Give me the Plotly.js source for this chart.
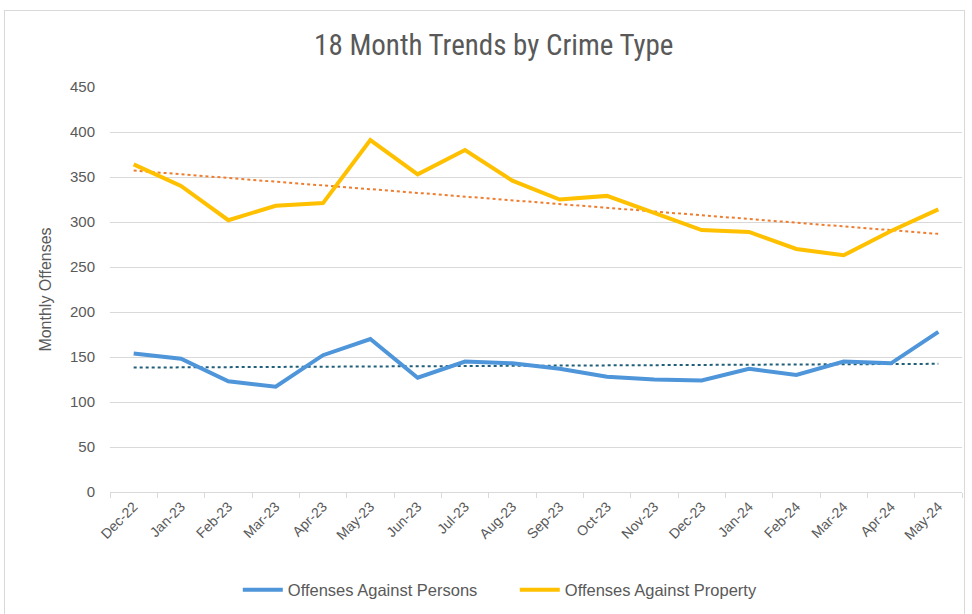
<!DOCTYPE html>
<html>
<head>
<meta charset="utf-8">
<script src="https://cdn.plot.ly/plotly-3.0.1.min.js"></script>
<style>
html,body{margin:0;padding:0;background:#fff;}
#wrap{position:relative;width:972px;height:614px;}
#frame{position:absolute;left:4px;top:10px;width:961px;height:610px;border:1px solid #d9d9d9;box-sizing:border-box;}
#chart{position:absolute;left:0;top:0;width:972px;height:614px;}
</style>
</head>
<body>
<div id="wrap"><div id="frame"></div><div id="chart"></div></div>
<script>
const months = ["Dec-22","Jan-23","Feb-23","Mar-23","Apr-23","May-23","Jun-23","Jul-23","Aug-23","Sep-23","Oct-23","Nov-23","Dec-23","Jan-24","Feb-24","Mar-24","Apr-24","May-24"];
const persons = [154,148,123,117,152,170,127,145,143,137,128,125,124,137,130,145,143,178];
const property = [364,340,302,318,321,391,353,380,346,325,329,310,291,289,270,263,290,314];
const yTicks = [0,50,100,150,200,250,300,350,400,450];

function trend(vals){
  const n = vals.length;
  const xs = vals.map((_,i)=>i+1);
  const mx = xs.reduce((a,b)=>a+b,0)/n;
  const my = vals.reduce((a,b)=>a+b,0)/n;
  let sxy=0,sxx=0;
  for(let i=0;i<n;i++){sxy+=(xs[i]-mx)*(vals[i]-my);sxx+=(xs[i]-mx)*(xs[i]-mx);}
  const b=sxy/sxx, a=my-b*mx;
  return xs.map(x=>a+b*x);
}

const data = [
  {x:months,y:trend(persons),type:'scatter',mode:'lines',showlegend:false,hoverinfo:'skip',
   line:{color:'#1F5F7A',width:2,dash:'dot'}},
  {x:months,y:trend(property),type:'scatter',mode:'lines',showlegend:false,hoverinfo:'skip',
   line:{color:'#ED7D31',width:2,dash:'dot'}},
  {x:months,y:persons,type:'scatter',mode:'lines',name:'Offenses Against Persons',
   line:{color:'#4E95D9',width:4}},
  {x:months,y:property,type:'scatter',mode:'lines',name:'Offenses Against Property',
   line:{color:'#FFC000',width:4}}
];

const layout = {
  width:972,height:614,
  paper_bgcolor:'rgba(0,0,0,0)',plot_bgcolor:'rgba(0,0,0,0)',
  margin:{l:110,r:10,t:87,b:122,autoexpand:false},
  title:{text:'18 Month Trends by Crime Type',x:0.508,xanchor:'center',y:0.927,yanchor:'middle',
    font:{family:'Liberation Sans Narrow, Roboto Condensed, Liberation Sans, sans-serif',size:29,color:'#595959'}},
  xaxis:{type:'category',tickangle:-45,tickson:'boundaries',ticks:'outside',ticklen:5,tickcolor:'#d9d9d9',
    showline:true,linecolor:'#d9d9d9',linewidth:1,showgrid:false,automargin:false,
    tickfont:{family:'Liberation Sans, Arial, sans-serif',size:14,color:'#595959'},
    range:[-0.5,17.5],fixedrange:true},
  yaxis:{range:[0,450],tickvals:yTicks,ticktext:yTicks.map(String),showgrid:true,gridcolor:'#d9d9d9',gridwidth:1,
    zeroline:false,showline:false,ticks:'',ticklabelstandoff:14,automargin:false,
    tickfont:{family:'Liberation Sans, Arial, sans-serif',size:15,color:'#595959'},
    title:{text:'Monthly Offenses',standoff:14,font:{family:'Liberation Sans, Arial, sans-serif',size:16,color:'#595959'}}},
  legend:{orientation:'h',x:0.150,xanchor:'left',yref:'container',y:0.039,yanchor:'middle',
    font:{family:'Liberation Sans Narrow, Liberation Sans, sans-serif',size:16.5,color:'#595959'},
    itemwidth:40,entrywidth:222,traceorder:'normal'},
  showlegend:true
};
Plotly.newPlot('chart',data,layout,{displayModeBar:false,staticPlot:true});
</script>
</body>
</html>
